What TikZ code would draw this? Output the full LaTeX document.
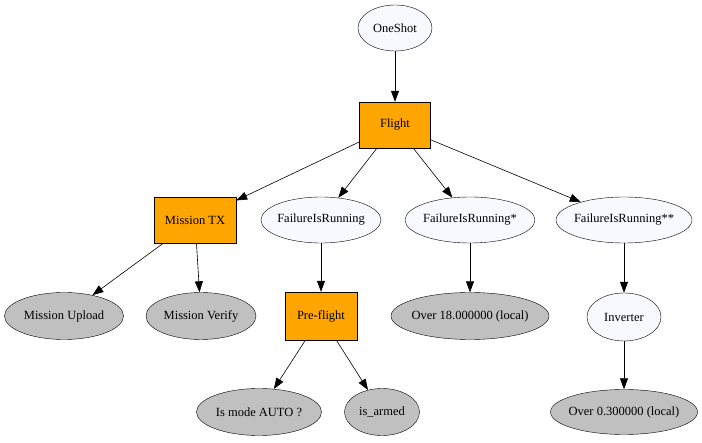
\documentclass[tikz,border=0pt]{standalone}
\usepackage{fontspec}
\setmainfont{Liberation Serif}
\usetikzlibrary{arrows.meta,shapes.geometric}
\definecolor{ghost}{HTML}{F8F8FF}
\definecolor{seq}{HTML}{FFA500}
\definecolor{leaf}{HTML}{C0C0C0}

\begin{document}
\begin{tikzpicture}[
  x=1pt, y=-1pt,
  font=\fontsize{12.5}{14}\selectfont,
  >={Triangle[length=11pt,width=8pt]},
  dec/.style={ellipse, draw, fill=ghost, inner xsep=-25pt, inner ysep=0pt, minimum height=46pt},
  ctl/.style={rectangle, draw, fill=seq, inner sep=0pt, minimum height=46pt},
  act/.style={ellipse, draw, fill=leaf, inner xsep=-25pt, inner ysep=0pt, minimum height=47pt},
  arr/.style={->, semithick}
]
\useasboundingbox (0,0) rectangle (702,443);
\node[dec, minimum width=74pt] (oneshot) at (395,28) {OneShot};
\node[ctl, minimum width=71pt] (flight) at (395,125) {Flight};
\node[ctl, minimum width=82pt] (mtx) at (195,220) {Mission TX};
\node[dec, minimum width=120pt] (fail1) at (321,220) {FailureIsRunning};
\node[dec, minimum width=130pt] (fail2) at (470,220) {FailureIsRunning*};
\node[dec, minimum width=136pt] (fail3) at (624,220) {FailureIsRunning**};
\node[act, minimum width=119pt] (upload) at (64,316) {Mission Upload};
\node[act, minimum width=110pt] (verify) at (201,316) {Mission Verify};
\node[ctl, minimum width=72pt, minimum height=48pt] (preflight) at (321,316) {Pre-flight};
\node[act, minimum width=158pt] (over18) at (470,316) {Over 18.000000 (local)};
\node[dec, minimum width=74pt, minimum height=48pt] (inverter) at (624,317) {Inverter};
\node[act, minimum width=125pt] (auto) at (259,412) {Is mode AUTO ?};
\node[act, minimum width=75pt] (armed) at (382,412) {is\_armed};
\node[act, minimum width=147pt, minimum height=45pt] (over03) at (624,412) {Over 0.300000 (local)};
\foreach \a/\b in {oneshot/flight,flight/mtx,flight/fail1,flight/fail2,flight/fail3,
  mtx/upload,mtx/verify,fail1/preflight,fail2/over18,fail3/inverter,
  preflight/auto,preflight/armed,inverter/over03}
  \draw[arr] (\a) -- (\b);
\end{tikzpicture}
\end{document}
